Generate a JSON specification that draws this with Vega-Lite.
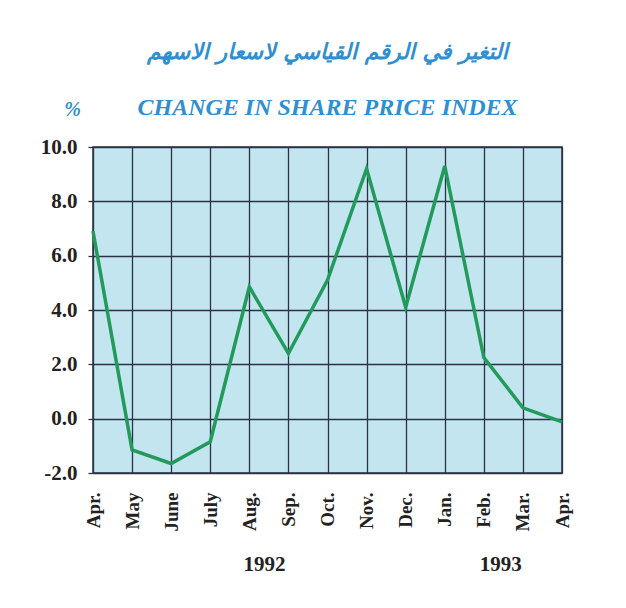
{
  "$schema": "https://vega.github.io/schema/vega-lite/v6.json",
  "autosize": "none",
  "width": 469,
  "height": 326,
  "padding": {"left": 93, "top": 147, "right": 64, "bottom": 135},
  "background": "white",
  "title": {
    "text": "التغير في الرقم القياسي لاسعار الاسهم",
    "subtitle": "CHANGE IN SHARE PRICE INDEX",
    "anchor": "middle",
    "frame": "group",
    "font": "DejaVu Sans",
    "fontSize": 22,
    "fontWeight": "bold",
    "fontStyle": "italic",
    "color": "#2f8fd3",
    "subtitleFont": "Liberation Serif",
    "subtitleFontSize": 24,
    "subtitleFontWeight": "bold",
    "subtitleFontStyle": "italic",
    "subtitleColor": "#2f8fd3",
    "subtitlePadding": 32,
    "offset": -22
  },
  "data": {
    "values": [
      {"period": "Apr. 1992", "value": 6.9},
      {"period": "May 1992", "value": -1.15},
      {"period": "June 1992", "value": -1.65},
      {"period": "July 1992", "value": -0.85},
      {"period": "Aug. 1992", "value": 4.85},
      {"period": "Sep. 1992", "value": 2.4},
      {"period": "Oct. 1992", "value": 5.1},
      {"period": "Nov. 1992", "value": 9.2},
      {"period": "Dec. 1992", "value": 4.1},
      {"period": "Jan. 1993", "value": 9.3},
      {"period": "Feb. 1993", "value": 2.25},
      {"period": "Mar. 1993", "value": 0.4},
      {"period": "Apr. 1993", "value": -0.12}
    ]
  },
  "mark": {"type": "line", "color": "#229a5c", "strokeWidth": 3.5, "strokeJoin": "miter"},
  "encoding": {
    "x": {
      "field": "period",
      "type": "nominal",
      "sort": null,
      "scale": {"type": "point", "padding": 0},
      "axis": {
        "labelExpr": "split(datum.value, ' ')[0]",
        "labelAngle": -90,
        "labelAlign": "right",
        "labelBaseline": "middle",
        "labelFont": "Liberation Serif",
        "labelFontWeight": "bold",
        "labelFontSize": 19,
        "labelColor": "#222222",
        "labelPadding": 19,
        "ticks": false,
        "domain": false,
        "grid": true,
        "gridColor": "#2b3245",
        "gridWidth": 1.3,
        "gridOpacity": 1,
        "title": "1992\u00a0\u00a0\u00a0\u00a0\u00a0\u00a0\u00a0\u00a0\u00a0\u00a0\u00a0\u00a0\u00a0\u00a0\u00a0\u00a0\u00a0\u00a0\u00a0\u00a0\u00a0\u00a0\u00a0\u00a0\u00a0\u00a0\u00a0\u00a0\u00a0\u00a0\u00a0\u00a0\u00a0\u00a0\u00a0\u00a0\u00a01993",
        "titleFont": "Liberation Serif",
        "titleFontWeight": "bold",
        "titleFontSize": 21,
        "titleColor": "#222222",
        "titleAnchor": "start",
        "titleAlign": "left",
        "titleBaseline": "alphabetic",
        "titleX": 150,
        "titleY": 97
      }
    },
    "y": {
      "field": "value",
      "type": "quantitative",
      "scale": {"domain": [-2, 10], "nice": false, "zero": false},
      "axis": {
        "values": [-2, 0, 2, 4, 6, 8, 10],
        "labelExpr": "replace(format(datum.value, '.1f'), '\u2212', '-')",
        "labelFont": "Liberation Serif",
        "labelFontWeight": "bold",
        "labelFontSize": 21,
        "labelColor": "#222222",
        "labelPadding": 11,
        "tickSize": 5,
        "tickColor": "#2b3245",
        "tickWidth": 1.3,
        "domain": false,
        "grid": true,
        "gridColor": "#2b3245",
        "gridWidth": 1.3,
        "gridOpacity": 1,
        "title": "%",
        "titleAngle": 0,
        "titleFont": "Liberation Serif",
        "titleFontSize": 20,
        "titleFontWeight": "bold",
        "titleFontStyle": "italic",
        "titleColor": "#2f8fd3",
        "titleAlign": "center",
        "titleBaseline": "alphabetic",
        "titleX": -21,
        "titleY": -32
      }
    }
  },
  "config": {
    "view": {"fill": "#c3e5ef", "stroke": "#2b3245", "strokeWidth": 1.5}
  }
}
